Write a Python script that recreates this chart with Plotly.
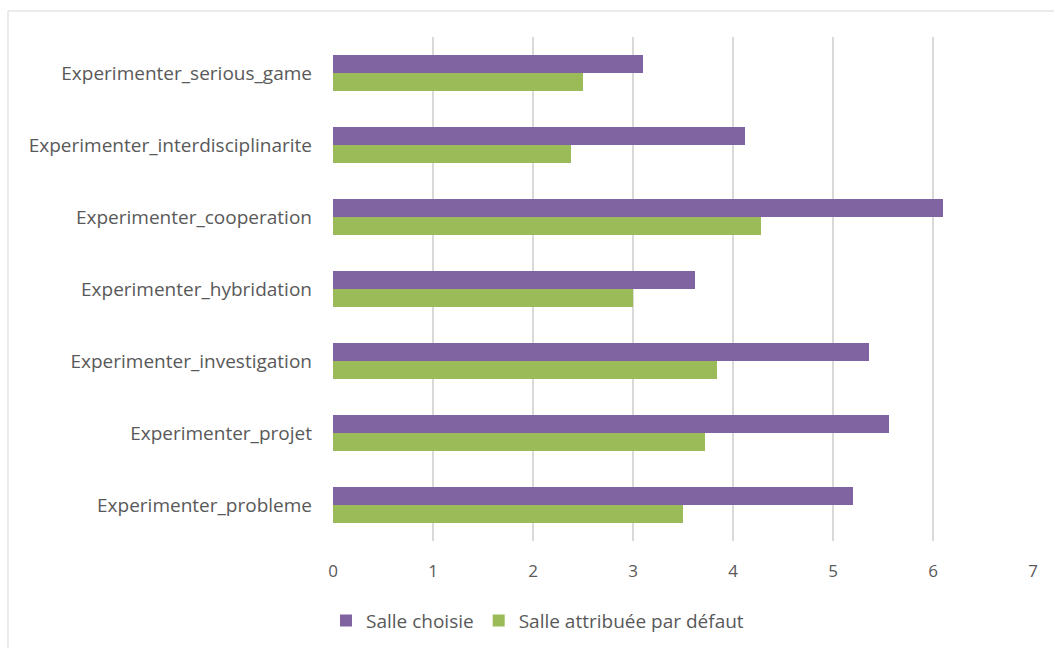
import plotly.graph_objects as go

categories = [
    "Experimenter_serious_game",
    "Experimenter_interdisciplinarite",
    "Experimenter_cooperation",
    "Experimenter_hybridation",
    "Experimenter_investigation",
    "Experimenter_projet",
    "Experimenter_probleme",
]
salle_choisie = [3.10, 4.12, 6.10, 3.62, 5.36, 5.56, 5.20]
salle_defaut = [2.50, 2.38, 4.28, 3.00, 3.84, 3.72, 3.50]
x_ticks = [0, 1, 2, 3, 4, 5, 6, 7]

PURPLE = "#8064A2"
GREEN = "#9BBB59"
TEXT = "#595959"
FONT = "Open Sans"

fig = go.Figure()
fig.add_trace(go.Bar(
    y=categories, x=salle_choisie, orientation="h",
    name="Salle choisie", marker=dict(color=PURPLE, line=dict(width=0)),
))
fig.add_trace(go.Bar(
    y=categories, x=salle_defaut, orientation="h",
    name="Salle attribuée par défaut", marker=dict(color=GREEN, line=dict(width=0)),
))

# outer chart frame
fig.add_shape(
    type="rect", xref="paper", yref="paper",
    x0=-0.4643, x1=1.2, y0=-0.3, y1=1.0516,
    line=dict(color="#D9D9D9", width=1), fillcolor="rgba(0,0,0,0)", layer="below",
)

fig.update_layout(
    width=1054, height=648,
    margin=dict(l=333, r=21, t=37, b=107, autoexpand=False),
    paper_bgcolor="white", plot_bgcolor="white",
    barmode="group", bargap=0.5, bargroupgap=0,
    font=dict(family=FONT, color=TEXT, size=18),
    xaxis=dict(
        range=[0, 7], tickvals=x_ticks, ticktext=[str(v) for v in x_ticks],
        showgrid=True, gridcolor="#D9D9D9", gridwidth=1.5,
        zeroline=False, showline=False, ticks="", automargin=False,
        tickfont=dict(size=17, color=TEXT), ticklabelstandoff=18,
    ),
    yaxis=dict(
        autorange="reversed", showgrid=False, zeroline=False,
        showline=False, ticks="", ticklabelstandoff=20, automargin=False,
        tickfont=dict(size=19, color=TEXT),
    ),
    legend=dict(
        orientation="h", x=-0.01, xanchor="left", y=-0.158, yanchor="middle",
        font=dict(size=19, color=TEXT), traceorder="normal",
        itemwidth=30, tracegroupgap=0,
    ),
    showlegend=True,
)

fig.write_html("out.html")
